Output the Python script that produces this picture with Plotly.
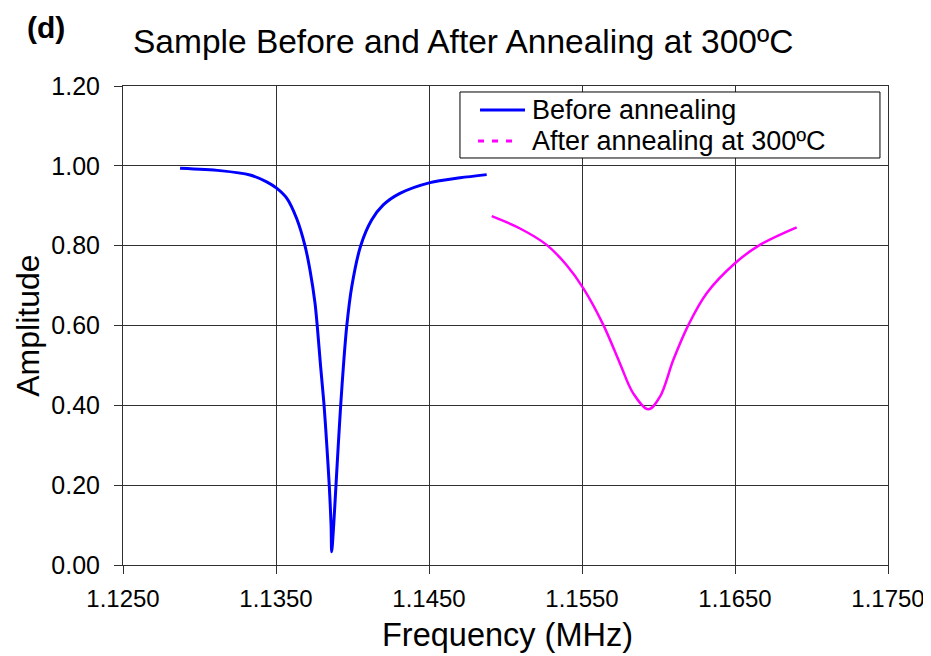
import plotly.graph_objects as go

# values
before_freq = [1.12873, 1.13134, 1.13330, 1.13439, 1.13504, 1.13570, 1.13635, 1.13690,
               1.13722, 1.13755, 1.13770, 1.13791, 1.13814, 1.13832, 1.13848, 1.13860,
               1.13864, 1.13877, 1.13892, 1.13907, 1.13923, 1.13941, 1.13962, 1.13995,
               1.14053, 1.14125, 1.14201, 1.14310, 1.14507, 1.14703, 1.14877]
before_amp = [0.994, 0.988, 0.977, 0.960, 0.944, 0.919, 0.868, 0.799,
              0.739, 0.656, 0.597, 0.500, 0.401, 0.300, 0.200, 0.100,
              0.033, 0.100, 0.200, 0.300, 0.401, 0.500, 0.597, 0.697,
              0.799, 0.864, 0.902, 0.931, 0.958, 0.970, 0.978]

after_freq = [1.14910, 1.15095, 1.15269, 1.15400, 1.15509, 1.15640, 1.15748, 1.15835,
              1.15934, 1.16010, 1.16097, 1.16195, 1.16315, 1.16500, 1.16663, 1.16903]
after_amp = [0.874, 0.843, 0.802, 0.751, 0.693, 0.601, 0.505, 0.430,
             0.390, 0.422, 0.514, 0.601, 0.681, 0.756, 0.802, 0.846]

series_names = ['Before annealing', 'After annealing at 300ºC']
title_text = 'Sample Before and After Annealing at 300ºC'

font = 'Liberation Sans, Arial, sans-serif'
blue = '#0000ff'
pink = '#ff00ff'

fig = go.Figure()

fig.add_trace(go.Scatter(x=before_freq, y=before_amp, mode='lines', name=series_names[0],
                         line=dict(color=blue, width=3, shape='spline', smoothing=0.8)))
fig.add_trace(go.Scatter(x=after_freq, y=after_amp, mode='lines', name=series_names[1],
                         line=dict(color=pink, width=2.5, shape='spline', smoothing=1.0)))

axis_common = dict(showgrid=True, gridcolor='#303030', gridwidth=1,
                   ticks='outside', ticklen=8, tickcolor='#303030',
                   showline=True, linecolor='#303030', linewidth=1, mirror=True,
                   zeroline=False, automargin=False)

fig.update_xaxes(range=[1.125, 1.175], dtick=0.01, tick0=1.125, tickformat='.4f',
                 tickfont=dict(size=24, color='black'), ticklabelstandoff=4, **axis_common)
fig.update_yaxes(range=[0, 1.2], dtick=0.2, tickformat='.2f',
                 tickfont=dict(size=25, color='black'), ticklabelstandoff=9, **axis_common)

# hand-made legend box (Excel style: tight rows)
row1, row2 = 0.9499, 0.8852
shapes = [
    dict(type='rect', xref='paper', yref='paper', x0=0.4405, x1=0.9895, y0=0.8497, y1=0.9875,
         line=dict(color='black', width=1), fillcolor='white', layer='above'),
    dict(type='line', xref='paper', yref='paper', x0=0.4667, x1=0.5255, y0=row1, y1=row1,
         line=dict(color=blue, width=3), layer='above'),
    dict(type='line', xref='paper', yref='paper', x0=0.4641, x1=0.5163, y0=row2, y1=row2,
         line=dict(color=pink, width=3, dash='6px,8px'), layer='above'),
]

annotations = [
    dict(text='<b>(d)</b>', x=-0.1275, y=1.1211, xanchor='left', yanchor='middle',
         font=dict(size=30)),
    dict(text=title_text, x=0.4444, y=1.0919, xanchor='center', yanchor='middle',
         font=dict(size=33.5)),
    dict(text='Frequency (MHz)', x=0.502, y=-0.1451, xanchor='center', yanchor='middle',
         font=dict(size=32.5)),
    dict(text='Amplitude', x=-0.1245, y=0.499, xanchor='center', yanchor='middle',
         textangle=-90, font=dict(size=32)),
    dict(text=series_names[0], x=0.532, y=row1, xanchor='left', yanchor='middle',
         font=dict(size=27)),
    dict(text=series_names[1], x=0.532, y=row2, xanchor='left', yanchor='middle',
         font=dict(size=27)),
]
for a in annotations:
    a.update(xref='paper', yref='paper', showarrow=False)
    a['font'].update(color='black', family=font)

# page body has an 8px margin, so the figure is 8px smaller each way
fig.update_layout(
    width=923, height=648,
    margin=dict(l=115, r=43, t=78, b=91),
    paper_bgcolor='white', plot_bgcolor='white',
    font=dict(family=font, color='black'),
    showlegend=False,
    shapes=shapes,
    annotations=annotations,
)

fig.write_html('out.html')
